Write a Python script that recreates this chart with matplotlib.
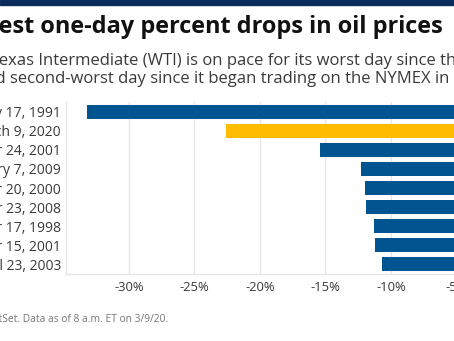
import matplotlib
matplotlib.use("Agg")
import matplotlib.pyplot as plt
from matplotlib.font_manager import FontProperties

plt.rcParams['font.family'] = ['Open Sans', 'DejaVu Sans']

# Biggest one-day percent drops in WTI crude
dates = ['January 17, 1991', 'March 9, 2020', 'September 24, 2001',
         'January 7, 2009', 'November 20, 2000', 'October 23, 2008',
         'November 17, 1998', 'November 15, 2001', 'April 23, 2003']
drops = [-33.2, -22.6, -15.4, -12.3, -12.0, -11.9, -11.3, -11.2, -10.7]
highlight = 'March 9, 2020'
xticks = [-30, -25, -20, -15, -10, -5]

title = 'Biggest one-day percent drops in oil prices'
sub1 = 'West Texas Intermediate (WTI) is on pace for its worst day since the 1991 Gulf War'
sub2 = 'and second-worst day since it began trading on the NYMEX in 1983.'
source = 'Source: FactSet. Data as of 8 a.m. ET on 3/9/20.'

blue = '#00548f'
gold = '#ffbc00'
grid_col = '#e6e6e6'
text_col = '#3a3a3a'

W, H = 454, 341
fig = plt.figure(figsize=(W / 100, H / 100), dpi=100)
renderer = fig.canvas.get_renderer()


def header_text(s, lead, x_px, y_px, size, weight='normal', color=text_col):
    # put the text so the part after `lead` starts at x_px (baseline at y_px from top)
    fp = FontProperties(family=['Open Sans'], size=size, weight=weight)
    w = renderer.get_text_width_height_descent(lead, fp, ismath=False)[0]
    fig.text((x_px - w) / W, 1 - y_px / H, s, ha='left', va='baseline',
             fontproperties=fp, color=color)


# dark band across the top
fig.patches.append(plt.Rectangle((0, 1 - 5 / H), 1, 5 / H, transform=fig.transFigure,
                                 color='#0b2b5c', zorder=0))

header_text(title, 'Bigg', -1, 33, 16.9, weight='bold', color='#111111')
header_text(sub1, 'West T', -1, 65, 12)
header_text(sub2, 'an', -5, 83, 12)
header_text(source, 'Source: Fac', -1.5, 322, 7.4, color='#777777')

ax = fig.add_axes([66 / W, 67 / H, 456 / W, 172 / H])
colors = [gold if d == highlight else blue for d in dates]
ax.barh(range(len(dates)), drops, height=0.73, color=colors, zorder=3)

ax.set_xlim(-34.8, 0)
ax.set_ylim(len(dates) - 0.5, -0.5)
ax.set_yticks(range(len(dates)))
ax.set_yticklabels(dates)
ax.set_xticks(xticks)
ax.set_xticklabels([f'{t}%' for t in xticks])
ax.tick_params(axis='y', length=0, pad=3.6, labelsize=10, labelcolor=text_col)
ax.tick_params(axis='x', length=0, pad=5, labelsize=9.4, labelcolor=text_col)

ax.grid(axis='x', color=grid_col, linewidth=1, zorder=0)
for side in ['top', 'right']:
    ax.spines[side].set_visible(False)
for side in ['left', 'bottom']:
    ax.spines[side].set_color(grid_col)
    ax.spines[side].set_linewidth(1)

fig.savefig('out.png', dpi=100)
